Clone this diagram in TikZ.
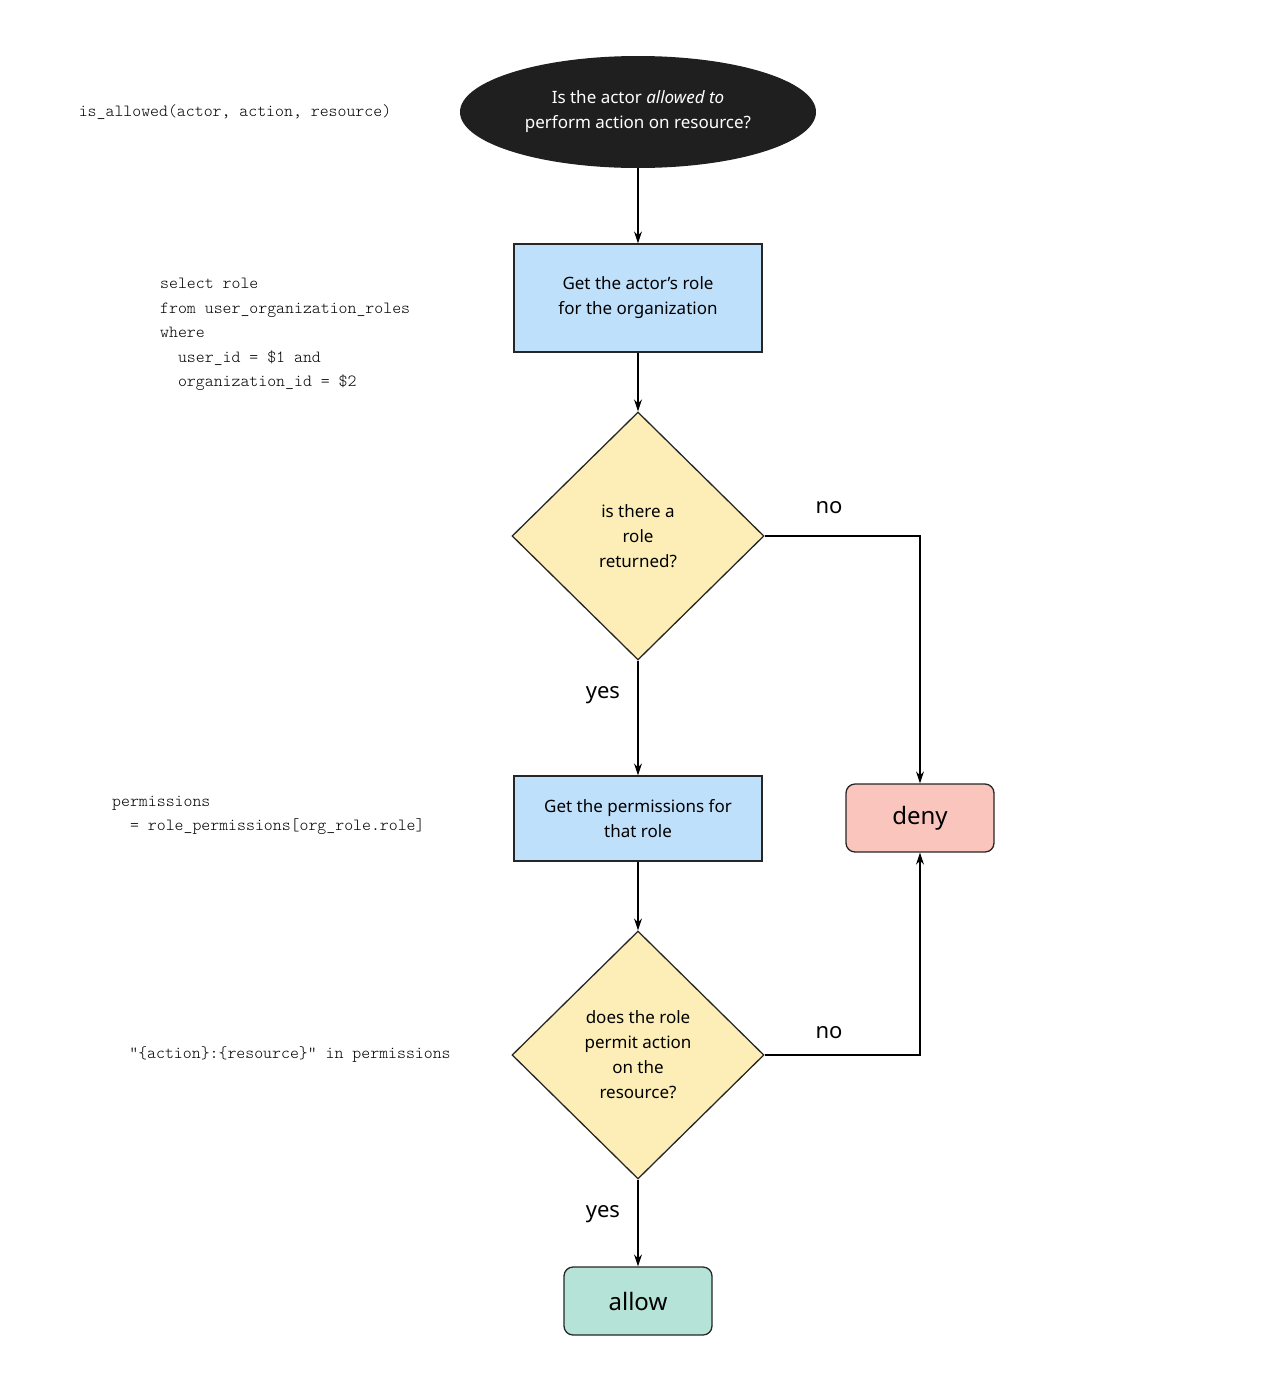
\documentclass[tikz,border=0pt]{standalone}
\usepackage{fontspec}
\setmainfont{Noto Sans}
\setmonofont{Latin Modern Mono Light}
\usetikzlibrary{shapes.geometric,arrows.meta}
\begin{document}
\begin{tikzpicture}[x=1pt,y=-1pt,
  txt/.style={font=\fontsize{17}{25}\selectfont,align=center},
  code/.style={font=\fontsize{17}{24.5}\ttfamily\selectfont,align=left},
  box/.style={draw=black!85,line width=1.3pt,fill=boxblue,minimum width=248pt,txt},
  dia/.style={diamond,draw=black!85,line width=1.3pt,fill=diayel,minimum width=252pt,minimum height=248pt,inner sep=0pt,txt},
  term/.style={draw=black!85,line width=1.3pt,rounded corners=9pt,minimum width=148pt,minimum height=68pt,font=\fontsize{24}{28}\selectfont},
  arr/.style={line width=1.3pt,-{Stealth[length=12pt,width=8pt]}},
  lab/.style={font=\fontsize{22}{26}\selectfont}]
\definecolor{boxblue}{HTML}{BFE0FB}
\definecolor{diayel}{HTML}{FCEEB6}
\definecolor{denyc}{HTML}{F9C5BD}
\definecolor{allowc}{HTML}{B5E3D8}
\useasboundingbox (0,0) rectangle (1274,1395);
\node[ellipse,fill=black!88,minimum width=356pt,minimum height=112pt,inner sep=0pt,txt,text=white] (start) at (638,112) {Is the \textbf{actor} \emph{allowed to}\\perform \textbf{action} on \textbf{resource?}};
\node[box,minimum height=108pt] (b1) at (638,298) {Get the actor's \textbf{role}\\for the organization};
\node[dia] (d1) at (638,536) {is there a\\\textbf{role}\\returned?};
\node[box,minimum height=85pt] (b2) at (638,818.5) {Get the \textbf{permissions} for\\that role};
\node[dia] (d2) at (638,1055) {does the \textbf{role}\\permit \textbf{action}\\on the\\\textbf{resource}?};
\node[term,fill=denyc] (deny) at (920,818) {deny};
\node[term,fill=allowc] (allow) at (638,1301) {allow};
\draw[arr] (start) -- (b1);
\draw[arr] (b1) -- (d1);
\draw[arr] (d1) -- node[lab,left=14pt,pos=0.3]{yes} (b2);
\draw[arr] (b2) -- (d2);
\draw[arr] (d2) -- node[lab,left=14pt,pos=0.4]{yes} (allow);
\draw[arr] (d1.east) -| (deny.north);
\draw[arr] (d2.east) -| (deny.south);
\node[lab] (no1) at (829,508) {no};
\node[lab] (no2) at (829,1033) {no};
\node[code] (c1) at (235,112) {is\_allowed(actor, action, resource)};
\node[code,anchor=north west,inner sep=0pt] (c2) at (160,278) {select role\\from user\_organization\_roles\\where\\\ \ user\_id = \$1 and\\\ \ organization\_id = \$2};
\node[code,anchor=north west,inner sep=0pt] (c3) at (112,796) {permissions\\\ \ = role\_permissions[org\_role.role]};
\node[code] (c4) at (290,1055) {"\{action\}:\{resource\}" in permissions};
\end{tikzpicture}
\end{document}
